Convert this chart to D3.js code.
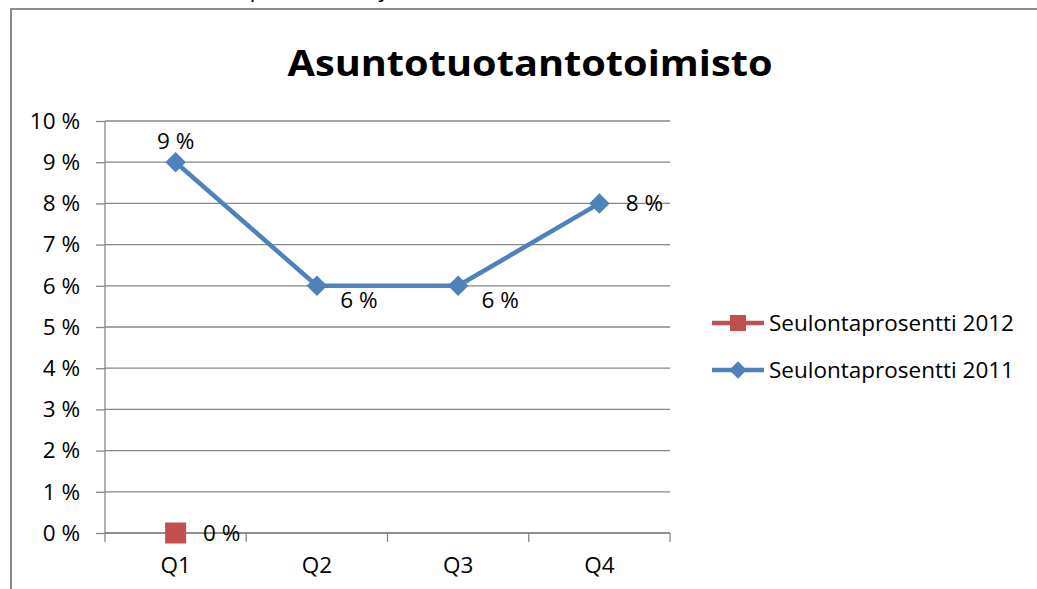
<!DOCTYPE html>
<html lang="fi">
<head>
<meta charset="utf-8">
<title>Asuntotuotantotoimisto</title>
<script src="https://cdn.jsdelivr.net/npm/d3@7"></script>
<style>
  body { margin: 0; background: #fff; }
  svg { display: block; }
  text { font-family: "Open Sans", sans-serif; fill: #000; }
</style>
</head>
<body>
<script>
// data
var quarters = ["Q1", "Q2", "Q3", "Q4"];
var values2011 = [0.09, 0.06, 0.06, 0.08];
var values2012 = [0, null, null, null];
var yTicks = [0, 0.01, 0.02, 0.03, 0.04, 0.05, 0.06, 0.07, 0.08, 0.09, 0.10];
var seriesNames = ["Seulontaprosentti 2012", "Seulontaprosentti 2011"];

var W = 1037, H = 589;
// plot area (don't use "top" as a global name, it's window.top)
var pLeft = 105, pRight = 670, pTop = 121, pBottom = 533;
var blue = "#4F81BD", red = "#C0504D", grid = "#878787";
var fs = 22.5;

var svg = d3.select("body").append("svg")
  .attr("width", W).attr("height", H);

// caption of the page, mostly cut off above the picture
svg.append("text")
  .attr("x", 62).attr("y", -3)
  .attr("font-size", 22)
  .attr("fill", "#222")
  .text("Kaavio 5. Seulontaprosentti neljännesvuosittain");

// chart frame
svg.append("rect")
  .attr("x", 11).attr("y", 9)
  .attr("width", 1040).attr("height", 600)
  .attr("fill", "#fff")
  .attr("stroke", "#8c8c8c").attr("stroke-width", 2);

svg.append("text")
  .attr("x", 530).attr("y", 76)
  .attr("text-anchor", "middle")
  .attr("font-size", 36).attr("font-weight", "bold")
  .attr("textLength", 485).attr("lengthAdjust", "spacingAndGlyphs")
  .text("Asuntotuotantotoimisto");

var x = d3.scaleBand().domain(quarters).range([pLeft, pRight]);
var y = d3.scaleLinear().domain([0, 0.10]).range([pBottom, pTop]);
var pct = function(d) { return Math.round(d * 100) + " %"; };

// gridlines
svg.append("g").selectAll("line")
  .data(yTicks)
  .enter().append("line")
  .attr("x1", pLeft).attr("x2", pRight)
  .attr("y1", function(d) { return y(d); })
  .attr("y2", function(d) { return y(d); })
  .attr("stroke", grid).attr("stroke-width", 1.3);

// y axis
var yAxis = svg.append("g")
  .attr("transform", "translate(" + pLeft + ",0)")
  .call(d3.axisLeft(y).tickValues(yTicks).tickSize(9).tickPadding(16).tickFormat(pct));
yAxis.selectAll("line, path").attr("stroke", grid).attr("stroke-width", 1.3);
yAxis.select(".domain").attr("d", "M0," + pTop + "V" + pBottom);
yAxis.selectAll("text").attr("font-size", fs).attr("font-family", "Open Sans, sans-serif").attr("fill", "#000");

// x axis
var xAxis = svg.append("g")
  .attr("transform", "translate(0," + pBottom + ")")
  .call(d3.axisBottom(x).tickSize(0).tickPadding(24));
xAxis.select(".domain").attr("stroke", grid).attr("stroke-width", 1.3)
  .attr("d", "M" + pLeft + ",0H" + pRight);
xAxis.selectAll("text").attr("font-size", fs).attr("font-family", "Open Sans, sans-serif").attr("fill", "#000");
xAxis.append("g").selectAll("line")
  .data(d3.range(quarters.length + 1))
  .enter().append("line")
  .attr("x1", function(i) { return pLeft + i * x.step(); })
  .attr("x2", function(i) { return pLeft + i * x.step(); })
  .attr("y1", 0).attr("y2", 9)
  .attr("stroke", grid).attr("stroke-width", 1.3);

var cx = function(i) { return x(quarters[i]) + x.bandwidth() / 2; };

// 2011 series
var line = d3.line()
  .defined(function(d) { return d != null; })
  .x(function(d, i) { return cx(i); })
  .y(function(d) { return y(d); });

svg.append("path")
  .datum(values2011)
  .attr("d", line)
  .attr("fill", "none").attr("stroke", blue).attr("stroke-width", 4.5)
  .attr("stroke-linejoin", "round");

var diamond = d3.symbol().type(d3.symbolSquare).size(210);
svg.append("g").selectAll("path")
  .data(values2011)
  .enter().append("path")
  .attr("d", diamond)
  .attr("transform", function(d, i) { return "translate(" + cx(i) + "," + y(d) + ") rotate(45)"; })
  .attr("fill", blue);

// data label offsets per point (Excel-like placement)
var labelDx = [0, 42, 42, 45];
var labelDy = [-13, 22, 22, 8];
svg.append("g").selectAll("text")
  .data(values2011)
  .enter().append("text")
  .attr("x", function(d, i) { return cx(i) + labelDx[i]; })
  .attr("y", function(d, i) { return y(d) + labelDy[i]; })
  .attr("text-anchor", "middle")
  .attr("font-size", fs)
  .text(pct);

// 2012 series
var pts2012 = values2012.map(function(d, i) { return { v: d, i: i }; })
  .filter(function(p) { return p.v != null; });
svg.append("g").selectAll("rect")
  .data(pts2012)
  .enter().append("rect")
  .attr("x", function(p) { return cx(p.i) - 10.5; })
  .attr("y", function(p) { return y(p.v) - 10.5; })
  .attr("width", 21).attr("height", 21)
  .attr("fill", red);
svg.append("g").selectAll("text")
  .data(pts2012)
  .enter().append("text")
  .attr("x", function(p) { return cx(p.i) + 46; })
  .attr("y", function(p) { return y(p.v) + 8; })
  .attr("text-anchor", "middle")
  .attr("font-size", fs)
  .text(function(p) { return pct(p.v); });

// legend
var legend = svg.append("g").selectAll("g")
  .data(seriesNames)
  .enter().append("g")
  .attr("transform", function(d, i) { return "translate(712," + (323 + i * 47) + ")"; });
legend.append("line")
  .attr("x1", 0).attr("x2", 52)
  .attr("stroke", function(d, i) { return i === 0 ? red : blue; })
  .attr("stroke-width", 4.5);
legend.append("path")
  .attr("d", function(d, i) { return d3.symbol().type(d3.symbolSquare).size(i === 0 ? 256 : 150)(); })
  .attr("transform", function(d, i) { return "translate(26,0)" + (i === 1 ? " rotate(45)" : ""); })
  .attr("fill", function(d, i) { return i === 0 ? red : blue; });
legend.append("text")
  .attr("x", 57).attr("y", 8)
  .attr("font-size", fs)
  .text(function(d) { return d; });
</script>
</body>
</html>
